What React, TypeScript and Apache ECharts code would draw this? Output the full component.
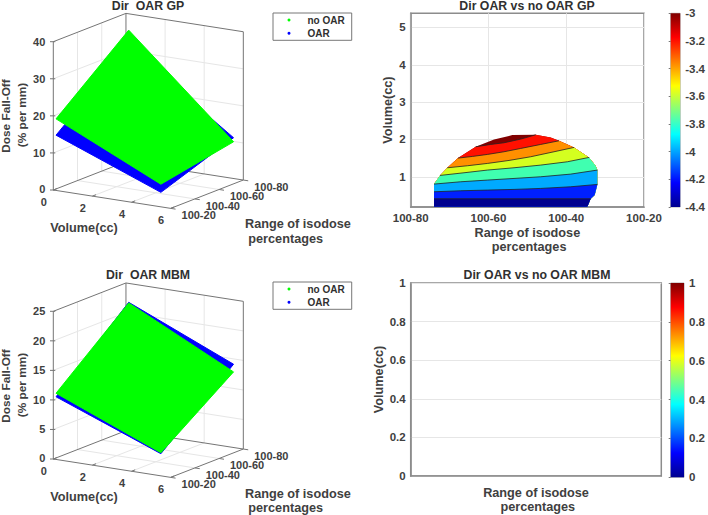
import React, { useEffect, useRef } from "react";
import * as echarts from "echarts";

const FONT = "'Liberation Sans', Arial, sans-serif";
const TEXT = "#404040";

const volumeTicks = [0, 2, 4, 6];
const isoTicks = [20, 40, 60, 80];
const gpDoseTicks = [0, 10, 20, 30, 40];
const mbmDoseTicks = [0, 5, 10, 15, 20, 25];

// surface corners: [volume index][isodose index]
const surfaceVolumes = [0.14, 5.5];
const surfaceIso = [20, 80];
const gpNoOar = [[19.3, 35.6], [6.1, 9.9]];
const gpOar = [[14.9, 31.1], [3.9, 11.0]];
const mbmNoOar = [[11.2, 21.7], [3.9, 12.8]];
const mbmOar = [[10.6, 21.8], [3.75, 14.1]];

// contour outline of the GP difference map: [isodose, volume]
const gpOutline = [
  [74.0, 0.196], [74.0, 0.411], [74.0, 0.598], [74.0, 0.804], [72.46, 1.036], [70.57, 1.241], [67.83, 1.5],
  [63.29, 1.804], [58.57, 2.0], [53.86, 2.116], [47.86, 2.125], [44.0, 2.054], [41.86, 1.964], [38.0, 1.786],
  [34.14, 1.518], [32.43, 1.295], [32.0, 1.179], [32.0, 0.795], [32.69, 0.509], [33.71, 0.411], [34.57, 0.196],
];
// iso-lines, lowest first; each runs between two outline vertices
const gpLevelCurves = [
  [[74.0, 0.411], [33.71, 0.411]],
  [[74.0, 0.598], [67.14, 0.625], [60.29, 0.643], [53.43, 0.661], [46.57, 0.6875], [38.86, 0.732], [32.0, 0.795]],
  [[74.0, 0.804], [67.14, 0.866], [60.29, 0.911], [53.43, 0.955], [46.57, 1.0], [38.86, 1.071], [32.0, 1.179]],
  [[72.46, 1.036], [66.29, 1.107], [60.29, 1.179], [53.43, 1.241], [46.57, 1.3125], [39.71, 1.402], [34.14, 1.518]],
  [[70.57, 1.241], [65.43, 1.295], [60.29, 1.357], [54.71, 1.4375], [49.14, 1.536], [43.14, 1.67], [38.0, 1.786]],
  [[67.83, 1.5], [64.14, 1.545], [60.29, 1.598], [56.0, 1.67], [51.71, 1.759], [46.57, 1.866], [41.86, 1.964]],
  [[63.29, 1.804], [59.43, 1.866], [56.0, 1.911], [51.71, 2.009], [47.86, 2.125]],
];
const gpBandColors = ["#00008f", "#0020ff", "#00aaff", "#40ffb0", "#d4ff20", "#ff9000", "#ff1000", "#800000"];

const jetStops: [number, string][] = [
  [0, "#00008f"], [0.125, "#0000ff"], [0.375, "#00ffff"], [0.625, "#ffff00"], [0.875, "#ff0000"], [1, "#800000"],
];

const GREEN = "#00ff00";
const BLUE = "#0000ff";

type Panel = { ox: number; oy: number; perDose: number; top: number };
const panelGp: Panel = { ox: 53.3, oy: 190, perDose: 148.3 / 40, top: 40 };
const panelMbm: Panel = { ox: 53.3, oy: 459, perDose: 147.7 / 25, top: 25 };

function project(p: Panel, v: number, iso: number, d: number): [number, number] {
  return [
    p.ox + v * 19.56 + (iso - 20) * 1.211,
    p.oy + v * 3.06 - (iso - 20) * 0.472 - d * p.perDose,
  ];
}

function surfaceSeries(name: string, color: string, p: Panel, doses: number[][]) {
  return {
    type: "custom", name, xAxisIndex: 0, yAxisIndex: 0, clip: false, silent: true,
    itemStyle: { color }, data: [0], z: 3,
    renderItem: (_: any, api: any) => {
      const corners = [[0, 0], [0, 1], [1, 1], [1, 0]].map(([a, b]) =>
        api.coord(project(p, surfaceVolumes[a], surfaceIso[b], doses[a][b])));
      return { type: "polygon", shape: { points: corners }, style: { fill: color, stroke: color, lineWidth: 1 } };
    },
  };
}

function boxSeries(p: Panel, doseTicks: number[]) {
  return {
    type: "custom", name: "box", xAxisIndex: 0, yAxisIndex: 0, clip: false, silent: true, data: [0], z: 1,
    renderItem: (_: any, api: any) => {
      const pt = (v: number, i: number, d: number) => api.coord(project(p, v, i, d));
      const seg = (a: number[], b: number[], stroke: string, lineWidth = 1) => ({
        type: "line", shape: { x1: a[0], y1: a[1], x2: b[0], y2: b[1] }, style: { stroke, lineWidth },
      });
      const label = (xy: number[], dx: number, dy: number, text: string, align = "center") => ({
        type: "text",
        style: { x: xy[0] + dx, y: xy[1] + dy, text, align, verticalAlign: "middle", fill: TEXT, fontSize: 11, fontWeight: "bold", fontFamily: FONT },
      });
      const kids: any[] = [];
      const gridC = "#e6e6e6";
      const boxC = "#757575";
      doseTicks.slice(1, -1).forEach((d) => {
        kids.push(seg(pt(0, 20, d), pt(0, 80, d), gridC), seg(pt(0, 80, d), pt(6, 80, d), gridC));
      });
      [2, 4].forEach((v) => {
        kids.push(seg(pt(v, 20, 0), pt(v, 80, 0), gridC), seg(pt(v, 80, 0), pt(v, 80, p.top), gridC));
      });
      [40, 60].forEach((i) => {
        kids.push(seg(pt(0, i, 0), pt(6, i, 0), gridC), seg(pt(0, i, 0), pt(0, i, p.top), gridC));
      });
      kids.push(
        seg(pt(0, 20, 0), pt(6, 20, 0), boxC), seg(pt(6, 20, 0), pt(6, 80, 0), boxC),
        seg(pt(6, 80, 0), pt(0, 80, 0), boxC), seg(pt(0, 80, 0), pt(0, 20, 0), boxC),
        seg(pt(0, 20, p.top), pt(0, 80, p.top), boxC), seg(pt(0, 80, p.top), pt(6, 80, p.top), boxC),
        seg(pt(0, 20, 0), pt(0, 20, p.top), boxC), seg(pt(0, 80, 0), pt(0, 80, p.top), boxC),
        seg(pt(6, 80, 0), pt(6, 80, p.top), boxC),
      );
      doseTicks.forEach((d) => {
        const a = pt(0, 20, d);
        kids.push(seg([a[0] - 3.3, a[1]], [a[0] + 2, a[1]], boxC), label(a, -8, d === 0 ? -1 : 0, String(d), "right"));
      });
      volumeTicks.forEach((v) => {
        const a = pt(v, 20, 0);
        kids.push(seg(a, pt(v, 23, 0), boxC), label(a, -9.5, 11.5, String(v)));
      });
      isoTicks.forEach((i) => {
        const a = pt(6, i, 0);
        kids.push(seg(a, pt(6.25, i, 0), boxC), label(a, 28, 7, `100-${i}`));
      });
      return { type: "group", children: kids };
    },
  };
}

function contourSeries() {
  return {
    type: "custom", name: "Dir OAR vs no OAR GP", xAxisIndex: 1, yAxisIndex: 1, silent: true, clip: true, data: [0], z: 3,
    renderItem: (_: any, api: any) => {
      const kids: any[] = [];
      const toPx = (pts: number[][]) => pts.map((q) => api.coord(q));
      kids.push({ type: "polygon", shape: { points: toPx(gpOutline) }, style: { fill: gpBandColors[7] } });
      for (let k = gpLevelCurves.length - 1; k >= 0; k--) {
        const curve = gpLevelCurves[k];
        const same = (a: number[], b: number[]) => a[0] === b[0] && a[1] === b[1];
        const s = gpOutline.findIndex((q) => same(q, curve[0]));
        const e = gpOutline.findIndex((q) => same(q, curve[curve.length - 1]));
        const pts = [...curve, ...gpOutline.slice(e + 1), ...gpOutline.slice(0, s)];
        kids.push({ type: "polygon", shape: { points: toPx(pts) }, style: { fill: gpBandColors[k] } });
      }
      for (let k = 0; k < gpLevelCurves.length; k++) {
        kids.push({ type: "polyline", shape: { points: toPx(gpLevelCurves[k]) }, style: { stroke: "#222", lineWidth: 0.8, fill: "none" } });
      }
      return { type: "group", children: kids };
    },
  };
}

function colorbarSeries(idx: number, lo: number, hi: number) {
  return {
    type: "custom", name: "colorbar", xAxisIndex: idx, yAxisIndex: idx, silent: true, data: [0], z: 2,
    renderItem: (_: any, api: any) => {
      const a = api.coord([0, hi]);
      const b = api.coord([1, lo]);
      const fill = new echarts.graphic.LinearGradient(0, 1, 0, 0, jetStops.map(([offset, color]) => ({ offset, color })));
      return { type: "rect", shape: { x: a[0], y: a[1], width: b[0] - a[0], height: b[1] - a[1] }, style: { fill } };
    },
  };
}

const tickLabel = { color: TEXT, fontSize: 11.5, fontWeight: "bold" as const, fontFamily: FONT };
const AX = "#8c8c8c";
const lightSplit = { lineStyle: { color: "#e6e6e6", width: 1 } };
const nameStyle = { color: TEXT, fontSize: 12.7, fontWeight: "bold" as const, fontFamily: FONT, lineHeight: 14 };

function legend(top: number) {
  return {
    data: ["no OAR", "OAR"], orient: "vertical", left: 273, top, selectedMode: false,
    icon: "circle", itemWidth: 3, itemHeight: 3, itemGap: 1.3, padding: [1, 7, 1, 14.5],
    borderColor: "#777", borderWidth: 1, backgroundColor: "#fff",
    textStyle: { color: "#303030", fontSize: 10, fontWeight: "bold", fontFamily: FONT, lineHeight: 12, padding: [0, 0, 0, 12] },
  };
}

function text(x: number, y: number, t: string, opts: any = {}) {
  return {
    type: "text", x, y, rotation: opts.rotation ?? 0,
    style: { text: t, fill: TEXT, fontSize: opts.size ?? 12.7, fontWeight: "bold", fontFamily: FONT, align: opts.align ?? "left", verticalAlign: "middle" },
  };
}

const title = (t: string, left: number, top: number) => ({
  text: t, left, top, textAlign: "center", padding: 0,
  textStyle: { color: "#303030", fontSize: 12.3, fontWeight: "bold", fontFamily: FONT },
});

export default function App() {
  const ref = useRef<HTMLDivElement>(null);
  useEffect(() => {
    const chart = echarts.init(ref.current!, undefined, { renderer: "svg" });
    chart.setOption({
      animation: false,
      backgroundColor: "#fff",
      title: [
        title("Dir  OAR GP", 148, 0),
        title("Dir OAR vs no OAR GP", 527, 0),
        title("Dir  OAR MBM", 148, 269),
        title("Dir OAR vs no OAR MBM", 537, 269),
      ],
      legend: [legend(13), legend(282)],
      grid: [
        { left: 0, top: 0, width: 708, height: 515 },
        { left: 410.7, top: 13.3, width: 233.3, height: 193.7, show: true, borderColor: AX, borderWidth: 1.5 },
        { left: 670.7, top: 13.3, width: 15, height: 193.7, show: true, borderColor: "#b0b0b0", borderWidth: 1 },
        { left: 410.7, top: 283, width: 250.6, height: 194.3, show: true, borderColor: AX, borderWidth: 1.5 },
        { left: 670.7, top: 283, width: 15, height: 194.3, show: true, borderColor: "#b0b0b0", borderWidth: 1 },
      ],
      xAxis: [
        { gridIndex: 0, type: "value", min: 0, max: 708, show: false },
        {
          gridIndex: 1, type: "value", min: 20, max: 80, interval: 20, inverse: true,
          name: "Range of isodose\n percentages", nameLocation: "middle", nameGap: 19, nameTextStyle: nameStyle,
          axisLine: { lineStyle: { color: AX, width: 1.5 } }, axisTick: { show: false },
          axisLabel: { ...tickLabel, margin: 5, formatter: (v: number) => `100-${v}` },
          splitLine: lightSplit,
        },
        { gridIndex: 2, type: "value", min: 0, max: 1, show: false },
        {
          gridIndex: 3, type: "value", min: 0, max: 1,
          name: "Range of isodose\n percentages", nameLocation: "middle", nameGap: 10, nameTextStyle: nameStyle,
          axisLine: { lineStyle: { color: AX, width: 1.5 } }, axisTick: { show: false }, axisLabel: { show: false }, splitLine: { show: false },
        },
        { gridIndex: 4, type: "value", min: 0, max: 1, show: false },
      ],
      yAxis: [
        { gridIndex: 0, type: "value", min: 0, max: 515, inverse: true, show: false },
        {
          gridIndex: 1, type: "value", min: 0.19, max: 5.38,
          name: "Volume(cc)", nameLocation: "middle", nameGap: 15, nameTextStyle: nameStyle,
          axisLine: { lineStyle: { color: AX, width: 1.5 } },
          axisTick: { show: false, customValues: [1, 2, 3, 4, 5] },
          axisLabel: { ...tickLabel, margin: 5, customValues: [1, 2, 3, 4, 5] },
          splitLine: { ...lightSplit, customValues: [1, 2, 3, 4, 5] },
        },
        {
          gridIndex: 2, type: "value", min: -4.4, max: -3, interval: 0.2, position: "right",
          axisLine: { show: false }, axisTick: { inside: true, length: 2, lineStyle: { color: "#777" } },
          axisLabel: { ...tickLabel, margin: 5 }, splitLine: { show: false },
        },
        {
          gridIndex: 3, type: "value", min: 0, max: 1, interval: 0.2,
          name: "Volume(cc)", nameLocation: "middle", nameGap: 25, nameTextStyle: nameStyle,
          axisLine: { lineStyle: { color: AX, width: 1.5 } }, axisTick: { show: false },
          axisLabel: { ...tickLabel, margin: 5 }, splitLine: lightSplit,
        },
        {
          gridIndex: 4, type: "value", min: 0, max: 1, interval: 0.2, position: "right",
          axisLine: { show: false }, axisTick: { inside: true, length: 2, lineStyle: { color: "#777" } },
          axisLabel: { ...tickLabel, margin: 5 }, splitLine: { show: false },
        },
      ],
      series: [
        boxSeries(panelGp, gpDoseTicks),
        surfaceSeries("OAR", BLUE, panelGp, gpOar),
        surfaceSeries("no OAR", GREEN, panelGp, gpNoOar),
        boxSeries(panelMbm, mbmDoseTicks),
        surfaceSeries("OAR", BLUE, panelMbm, mbmOar),
        surfaceSeries("no OAR", GREEN, panelMbm, mbmNoOar),
        contourSeries(),
        colorbarSeries(2, -4.4, -3),
        colorbarSeries(4, 0, 1),
      ],
      graphic: [
        text(6, 116, "Dose Fall-Off", { rotation: Math.PI / 2, align: "center", size: 11.8 }),
        text(21.7, 115, "(% per mm)", { rotation: Math.PI / 2, align: "center", size: 11.8 }),
        text(84, 227.7, "Volume(cc)", { align: "center" }),
        text(245, 224, "Range of isodose"),
        text(248.3, 238.7, "percentages"),
        text(6, 386, "Dose Fall-Off", { rotation: Math.PI / 2, align: "center", size: 11.8 }),
        text(22, 385, "(% per mm)", { rotation: Math.PI / 2, align: "center", size: 11.8 }),
        text(84, 497.3, "Volume(cc)", { align: "center" }),
        text(245, 494, "Range of isodose"),
        text(248.3, 508, "percentages"),
      ],
    });
    return () => chart.dispose();
  }, []);
  return <div ref={ref} style={{ position: "fixed", left: 0, top: 0, width: 708, height: 515 }} />;
}
